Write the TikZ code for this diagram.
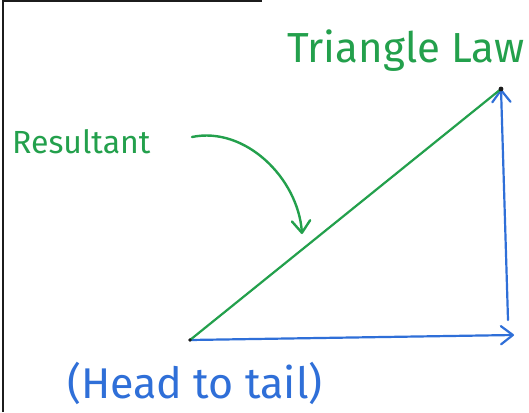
\documentclass[tikz,border=0pt]{standalone}
\usepackage{fontspec}
\setmainfont{Fira Sans}
\usepackage{xcolor}
\usetikzlibrary{arrows.meta,positioning}
\definecolor{inkgreen}{HTML}{23A04C}
\definecolor{inkblue}{HTML}{2F6FD8}
\definecolor{edge}{HTML}{1C1C1C}
\tikzset{
  >={Straight Barb[length=4.2mm,width=6.4mm,round]},
  vec/.style={->,line width=2.2pt,color=inkblue,line cap=round},
  resultant/.style={line width=2.2pt,color=inkgreen,line cap=round},
  pointer/.style={->,line width=2.4pt,color=inkgreen,line cap=round},
  handtext/.style={anchor=base west,inner sep=0pt},
}

\begin{document}
\begin{tikzpicture}[x=1pt,y=-1pt]
  \useasboundingbox (0,0) rectangle (529,412);
  \fill[white] (0,0) rectangle (529,412);
  \draw[edge,line width=2.6pt] (3,412) -- (3,1) -- (262,1);

  \coordinate (tail) at (190,340);
  \coordinate (head) at (514,335);
  \coordinate (rise) at (508,320);
  \coordinate (top) at (501,89);

  \draw[vec] (tail) -- (head);
  \draw[vec] (rise) -- (top);
  \draw[resultant] (tail) -- (top);
  \fill[edge] (tail) circle (1.8pt);
  \fill[edge] (top) circle (2.4pt);

  \node[handtext,text=inkgreen,font=\fontsize{42}{42}\selectfont] (title) at (287,63) {Triangle Law};
  \node[handtext,text=inkgreen,font=\fontsize{32}{32}\selectfont] (label) at (12,153) {Resultant};
  \node[handtext,text=inkblue,font=\fontsize{43}{43}\selectfont] (rule) at (67,398) {(Head to tail)};

  \coordinate (hint) at (192,137);
  \coordinate (aim) at (302,234);
  \draw[pointer] (hint) .. controls (245,126) and (298,178) .. (aim);
\end{tikzpicture}
\end{document}
